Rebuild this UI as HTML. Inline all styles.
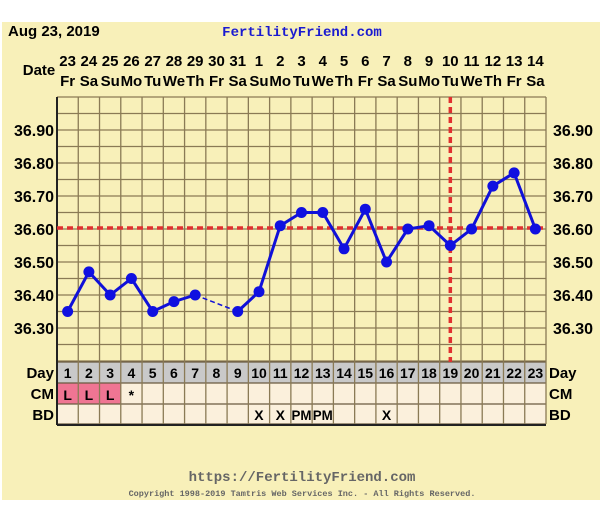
<!DOCTYPE html>
<html><head><meta charset="utf-8"><style>
html,body{margin:0;padding:0;background:#fff;width:600px;height:529px;overflow:hidden}
svg{display:block}
text{font-family:"Liberation Sans","DejaVu Sans",sans-serif;font-weight:bold}
</style></head><body>
<svg id="s" width="600" height="529" xmlns="http://www.w3.org/2000/svg"></svg>
<script>
const s=document.getElementById('s');let h='';
const L=57,R=546,T=97,cw=(R-L)/23;
const yv=v=>229-(v-36.6)*330;
const cx=i=>L+cw*(i-0.5);
h+=`<rect x="2" y="22" width="598" height="478" fill="#f8f0b9"/>`;
h+=`<text x="8" y="36" font-size="15" fill="#000">Aug 23, 2019</text>`;
h+=`<text x="302" y="36" font-size="14" fill="#1a1ad0" text-anchor="middle" style="font-family:'Liberation Mono',monospace">FertilityFriend.com</text>`;
const dates=[23,24,25,26,27,28,29,30,31,1,2,3,4,5,6,7,8,9,10,11,12,13,14];
const wd=['Fr','Sa','Su','Mo','Tu','We','Th'];
h+=`<text x="39" y="75" font-size="15" text-anchor="middle">Date</text>`;
for(let i=1;i<=23;i++){h+=`<text x="${cx(i)}" y="66" font-size="15" text-anchor="middle">${dates[i-1]}</text>`;
h+=`<text x="${cx(i)}" y="86" font-size="15" text-anchor="middle">${wd[(i-1)%7]}</text>`;}
h+=`<rect x="${L}" y="362" width="${R-L}" height="21" fill="#c9c9c9"/>`;
h+=`<rect x="${L}" y="383" width="${R-L}" height="41" fill="#fbf0dc"/>`;
for(let i=1;i<=3;i++)h+=`<rect x="${L+cw*(i-1)}" y="383" width="${cw}" height="21" fill="#ef7593"/>`;
for(let k=0;k<=16;k++){const y=T+k*16.5;h+=`<line x1="${L}" x2="${R}" y1="${y}" y2="${y}" stroke="#8a7a55" stroke-width="1.3"/>`;}
[362,383,404,424].forEach(y=>h+=`<line x1="${L}" x2="${R}" y1="${y}" y2="${y}" stroke="#6a5a40" stroke-width="1.3"/>`);
for(let i=0;i<=23;i++){const x=L+cw*i;h+=`<line x1="${x}" x2="${x}" y1="${T}" y2="424" stroke="#8a7a55" stroke-width="1.3"/>`;}
h+=`<line x1="${L}" x2="${L}" y1="${T}" y2="425" stroke="#222" stroke-width="2"/>`;
h+=`<line x1="${L}" x2="${R}" y1="425" y2="425" stroke="#222" stroke-width="2"/>`;
const temps=['36.90','36.80','36.70','36.60','36.50','36.40','36.30'];
temps.forEach((t,k)=>{const y=130+k*33+6;h+=`<text x="54" y="${y}" font-size="16" text-anchor="end">${t}</text><text x="553" y="${y}" font-size="16">${t}</text>`;});
h+=`<text x="54" y="378" font-size="15" text-anchor="end">Day</text><text x="549" y="378" font-size="15">Day</text>`;
h+=`<text x="54" y="399" font-size="15" text-anchor="end">CM</text><text x="549" y="399" font-size="15">CM</text>`;
h+=`<text x="54" y="420" font-size="15" text-anchor="end">BD</text><text x="549" y="420" font-size="15">BD</text>`;
for(let i=1;i<=23;i++)h+=`<text x="${cx(i)}" y="378" font-size="14" text-anchor="middle">${i}</text>`;
['L','L','L','*'].forEach((c,k)=>h+=`<text x="${cx(k+1)}" y="400" font-size="14" text-anchor="middle">${c}</text>`);
[[10,'X'],[11,'X'],[12,'PM'],[13,'PM'],[16,'X']].forEach(([i,c])=>h+=`<text x="${cx(i)}" y="420" font-size="14" text-anchor="middle" ${c=='PM'?'textLength="20" lengthAdjust="spacingAndGlyphs"':''}>${c}</text>`);
h+=`<line x1="${L}" x2="${R}" y1="228" y2="228" stroke="#e03030" stroke-width="3.5" stroke-dasharray="6,4"/>`;
h+=`<line x1="${cx(19)}" x2="${cx(19)}" y1="${T}" y2="362" stroke="#e03030" stroke-width="3.5" stroke-dasharray="6,4"/>`;
const d={1:36.35,2:36.47,3:36.40,4:36.45,5:36.35,6:36.38,7:36.40,9:36.35,10:36.41,11:36.61,12:36.65,13:36.65,14:36.54,15:36.66,16:36.50,17:36.60,18:36.61,19:36.55,20:36.60,21:36.73,22:36.77,23:36.60};
const p=i=>`${cx(i).toFixed(1)},${yv(d[i]).toFixed(1)}`;
h+=`<polyline points="${[1,2,3,4,5,6,7].map(p).join(' ')}" fill="none" stroke="#1010d8" stroke-width="3"/>`;
h+=`<line x1="${cx(7)}" y1="${yv(d[7])}" x2="${cx(9)}" y2="${yv(d[9])}" stroke="#1010d8" stroke-width="1.5" stroke-dasharray="5,3"/>`;
h+=`<polyline points="${[9,10,11,12,13,14,15,16,17,18,19,20,21,22,23].map(p).join(' ')}" fill="none" stroke="#1010d8" stroke-width="3"/>`;
for(const i in d)h+=`<circle cx="${cx(+i)}" cy="${yv(d[i])}" r="5.5" fill="#1010e0"/>`;
h+=`<text x="302" y="481" font-size="14" fill="#666" text-anchor="middle" style="font-family:'Liberation Mono',monospace">https://FertilityFriend.com</text>`;
h+=`<text x="302" y="496" font-size="8.5" fill="#666" text-anchor="middle" style="font-family:'Liberation Mono',monospace">Copyright 1998-2019 Tamtris Web Services Inc. - All Rights Reserved.</text>`;
s.innerHTML=h;
</script>
</body></html>
